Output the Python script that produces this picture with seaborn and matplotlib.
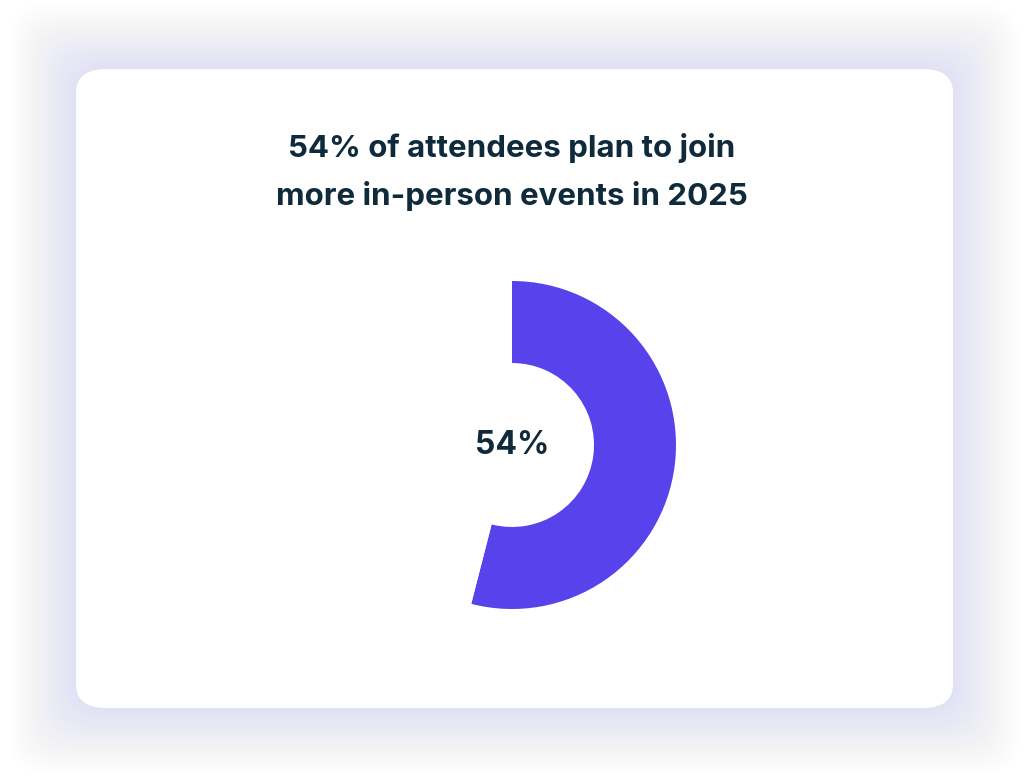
import matplotlib
matplotlib.use("Agg")
import matplotlib.pyplot as plt
from matplotlib.patches import FancyBboxPatch
import seaborn as sns

labels = ["Plan more in-person events", "Other"]
shares = [54, 46]
title = "54% of attendees plan to join\nmore in-person events in 2025"
center_label = "54%"
colors = ["#5842ec", "white"]

sns.set_theme(style="white")
plt.rcParams['font.family'] = ['Inter', 'DejaVu Sans']

fig = plt.figure(figsize=(10.24, 7.78), dpi=100)
fig.patch.set_facecolor("white")

# soft lavender glow around the card
W, H = 1024, 778
x0, y0, x1, y1 = 76, 69, 953, 708
for i in range(30, 0, -1):
    pad = i * 2.2
    glow = FancyBboxPatch(((x0 - pad) / W, 1 - (y1 + pad) / H),
                          (x1 - x0 + 2 * pad) / W, (y1 - y0 + 2 * pad) / H,
                          boxstyle="round,pad=0,rounding_size=0.04",
                          transform=fig.transFigure, facecolor="#8f86f5",
                          edgecolor="none", alpha=0.0045, zorder=0)
    fig.patches.append(glow)
card = FancyBboxPatch((x0 / W, 1 - y1 / H), (x1 - x0) / W, (y1 - y0) / H,
                      boxstyle="round,pad=0,rounding_size=0.03",
                      transform=fig.transFigure, facecolor="white",
                      edgecolor="none", zorder=1)
fig.patches.append(card)

fig.text(0.5, 1 - 172 / H, title, ha="center", va="center", fontsize=22.5,
         fontweight="bold", color="#0e2a3b", linespacing=1.75, zorder=3)

ax = fig.add_axes([(512 - 164) / W, 1 - (445 + 164) / H, 328 / W, 328 / H])
ax.set_zorder(3)
ax.pie(shares, colors=colors, startangle=90, counterclock=False,
       wedgeprops=dict(width=0.5, edgecolor="none"))
ax.set_aspect("equal")
ax.set_xlim(-1, 1)
ax.set_ylim(-1, 1)
ax.axis("off")
ax.text(0, 0, center_label, ha="center", va="center", fontsize=23,
        fontweight="bold", color="#0e2a3b")

fig.savefig("out.png", dpi=100)
